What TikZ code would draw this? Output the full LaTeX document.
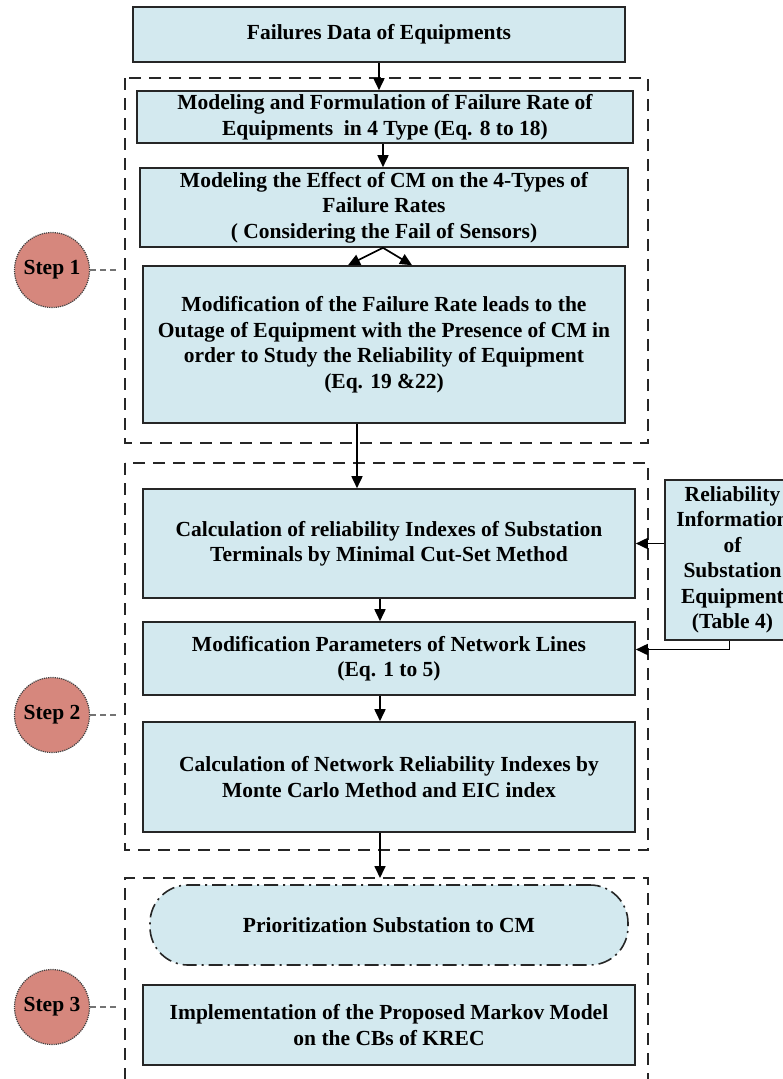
\documentclass[tikz,border=0pt]{standalone}
\usepackage{fontspec}
\setmainfont{Liberation Serif}
\usetikzlibrary{arrows.meta}
\definecolor{boxblue}{RGB}{211,233,239}
\definecolor{stepred}{RGB}{214,135,125}
\begin{document}
\begin{tikzpicture}[x=1pt,y=-1pt,
  box/.style={draw=black!85, line width=1.6pt, fill=boxblue, font=\fontsize{21.5}{25.5}\selectfont\bfseries, align=center, inner sep=0pt},
  grp/.style={draw=black!85, line width=1.5pt, dash pattern=on 12pt off 8pt},
  arr/.style={-{Triangle[length=12pt,width=11pt]}, line width=1.7pt},
  stepc/.style={circle, draw=black!75, densely dotted, line width=1.2pt, fill=stepred, minimum size=75pt, inner sep=0pt, font=\fontsize{21.5}{24}\selectfont\bfseries},
  link/.style={draw=black!55, line width=1.1pt, dash pattern=on 6pt off 4pt}]
\useasboundingbox (0,0) rectangle (782,1079);
% group frames
\draw[grp] (125,78) rectangle (648,443);
\draw[grp] (125,463) rectangle (648,850);
\draw[grp] (125,1100) -- (125,878) -- (648,878) -- (648,1100);
\coordinate (g3top) at (380,878);
% boxes
\node[box, minimum width=492pt, minimum height=55pt] (b1) at (379,34.5) {Failures Data of Equipments};
\node[box, minimum width=496pt, minimum height=52pt] (b2) at (385,117) {Modeling and Formulation of Failure Rate of\\Equipments~~in 4 Type (Eq. 8 to 18)};
\node[box, minimum width=488pt, minimum height=79pt] (b3) at (384,207.5) {Modeling the Effect of CM on the 4-Types of\\Failure Rates\\( Considering the Fail of Sensors)};
\node[box, minimum width=482pt, minimum height=157pt] (b4) at (384,344.5) {Modification of the Failure Rate leads to the\\Outage of Equipment with the Presence of CM in\\order to Study the Reliability of Equipment\\(Eq. 19 \&22)};
\node[box, minimum width=492pt, minimum height=109pt] (b5) at (389,543.5) {Calculation of reliability Indexes of Substation\\Terminals by Minimal Cut-Set Method};
\node[box, minimum width=492pt, minimum height=73pt] (b6) at (389,658.5) {Modification Parameters of Network Lines\\(Eq. 1 to 5)};
\node[box, minimum width=492pt, minimum height=110pt] (b7) at (389,777) {Calculation of Network Reliability Indexes by\\Monte Carlo Method and EIC index};
\node[box, minimum width=478pt, minimum height=80pt, rounded corners=38pt, dash pattern=on 14pt off 5pt on 2pt off 5pt] (b8) at (389,925) {Prioritization Substation to CM};
\node[box, minimum width=492pt, minimum height=80pt] (b9) at (389,1025) {Implementation of the Proposed Markov Model\\on the CBs of KREC};
\node[box, minimum width=135pt, minimum height=160pt] (rb) at (732.5,560) {Reliability\\Information\\of\\Substation\\Equipment\\(Table 4)};
% steps
\node[stepc] (s1) at (52,270) {Step 1};
\node[stepc] (s2) at (52,715) {Step 2};
\node[stepc] (s3) at (52,1007) {Step 3};
\coordinate (l1) at (119,270);
\coordinate (l2) at (119,715);
\coordinate (l3) at (119,1007);
\draw[link] (s1.east) -- (l1);
\draw[link] (s2.east) -- (l2);
\draw[link] (s3.east) -- (l3);
% arrows
\draw[arr] (b1.south) -- (b1.south |- b2.north);
\draw[arr] ([xshift=-2pt]b2.south) -- ([xshift=-2pt]b2.south |- b3.north);
\draw[arr] ([xshift=-1pt]b3.south) -- ([xshift=-36pt]b4.north);
\draw[arr] ([xshift=-1pt]b3.south) -- ([xshift=28pt]b4.north);
\draw[arr] ([xshift=-27pt]b4.south) -- ([xshift=-27pt]b4.south |- b5.north);
\draw[arr] ([xshift=-9pt]b5.south) -- ([xshift=-9pt]b5.south |- b6.north);
\draw[arr] ([xshift=-9pt]b6.south) -- ([xshift=-9pt]b6.south |- b7.north);
\draw[arr] ([xshift=-9pt]b7.south) -- (g3top);
\draw[arr] (rb.west |- b5.east) -- (b5.east);
\draw[arr] ([xshift=-3pt]rb.south) |- ([yshift=9pt]b6.east);
\end{tikzpicture}
\end{document}
